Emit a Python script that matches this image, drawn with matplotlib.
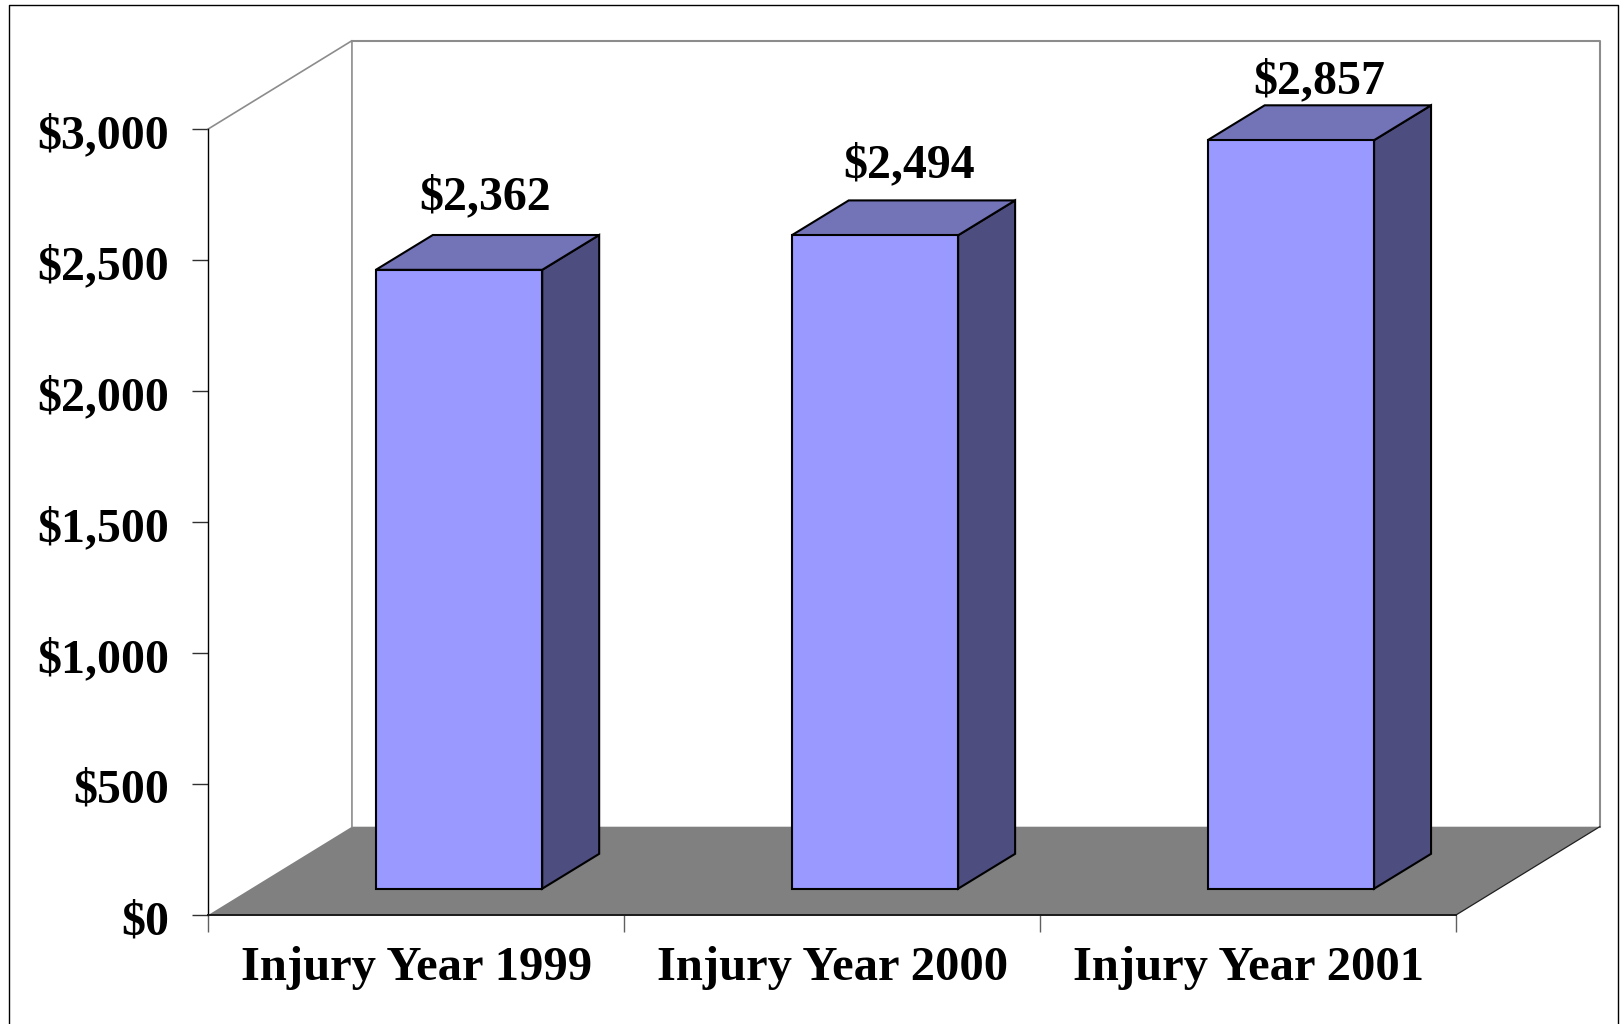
import matplotlib
matplotlib.use('Agg')
import matplotlib.pyplot as plt
from matplotlib.lines import Line2D
from matplotlib.transforms import ScaledTranslation

categories = ['Injury Year 1999', 'Injury Year 2000', 'Injury Year 2001']
values = [2362, 2494, 2857]
y_ticks = [0, 500, 1000, 1500, 2000, 2500, 3000]
y_tick_labels = ['$0', '$500', '$1,000', '$1,500', '$2,000', '$2,500', '$3,000']

# the label offsets are hand placed in the original (pixels from the bar's front top centre)
label_dx = [26, 34, 28]
label_dy = [73, 70, 59]

W, H = 1620, 1024
plt.rcParams['font.family'] = ['Liberation Serif', 'DejaVu Serif']
plt.rcParams['font.weight'] = 'bold'

fig = plt.figure(figsize=(W / 100, H / 100), dpi=100, facecolor='white')
# axis box in pixels: x 208.2..1456, y 129..915
ax = fig.add_axes([208.2 / W, 1 - 915 / H, (1456 - 208.2) / W, (915 - 129) / H])
ax.set_xlim(0, 3)
ax.set_ylim(0, 3000)
ax.patch.set_alpha(0)

# 3d look: depth of the box and of the bars, in data units
wall_dx, wall_dy = 0.3456, 337
bar_dx, bar_dy = 0.137, 133
base_dx, base_dy = 0.103, 100.4
bar_w = 0.40

# floor
ax.fill([0, 3, 3 + wall_dx, wall_dx], [0, 0, wall_dy, wall_dy], color='#808080', lw=0, clip_on=False, zorder=1)

# back wall
wall_top = 3000 + wall_dy
ax.plot([0, wall_dx, wall_dx], [3000, wall_top, wall_dy], color='#8c8c8c', lw=1.2, clip_on=False, zorder=2)
ax.plot([wall_dx, 3 + wall_dx, 3 + wall_dx], [wall_top, wall_top, wall_dy], color='#8c8c8c', lw=1.5, clip_on=False, zorder=2)
ax.plot([3, 3 + wall_dx], [0, wall_dy], color='#202020', lw=0.9, clip_on=False, zorder=2)

# bars
for i, v in enumerate(values):
    x0 = i + 0.5 + base_dx - bar_w / 2
    x1 = x0 + bar_w
    y0 = base_dy
    y1 = base_dy + v
    ax.fill([x1, x1 + bar_dx, x1 + bar_dx, x1], [y0, y0 + bar_dy, y1 + bar_dy, y1],
            facecolor='#4d4d80', edgecolor='black', lw=1.5, clip_on=False, zorder=3)
    ax.fill([x0, x1, x1 + bar_dx, x0 + bar_dx], [y1, y1, y1 + bar_dy, y1 + bar_dy],
            facecolor='#7373b8', edgecolor='black', lw=1.5, clip_on=False, zorder=3)
    ax.fill([x0, x1, x1, x0], [y0, y0, y1, y1],
            facecolor='#9999ff', edgecolor='black', lw=1.5, clip_on=False, zorder=4)
    ax.annotate(f'${v:,}', xy=((x0 + x1) / 2, y1), xytext=(label_dx[i], label_dy[i]),
                textcoords='offset pixels', ha='center', va='center', fontsize=34.5,
                fontweight='bold', annotation_clip=False, zorder=5)

# axes
for side in ['top', 'right']:
    ax.spines[side].set_visible(False)
ax.spines['left'].set_color('black')
ax.spines['left'].set_linewidth(1.0)
ax.spines['bottom'].set_color('#1a1a1a')
ax.spines['bottom'].set_linewidth(1.4)
ax.spines['bottom'].set_zorder(2.5)

ax.set_yticks(y_ticks, labels=y_tick_labels)
ax.tick_params(axis='y', length=11.5, width=1.0, color='#303030', pad=16.5, labelsize=34.4)
# the y labels sit a little under their ticks
shift = ScaledTranslation(0, -2 / 100, fig.dpi_scale_trans)
for lab in ax.get_yticklabels():
    lab.set_transform(lab.get_transform() + shift)

ax.set_xticks([0, 1, 2, 3], labels=[])
ax.tick_params(axis='x', which='major', length=12, width=1.0, color='#606060')
ax.set_xticks([0.5, 1.5, 2.5], labels=categories, minor=True)
ax.tick_params(axis='x', which='minor', length=0, pad=22, labelsize=35)

# outer frame, the bottom runs off the picture
frame_x = [9 / W, 9 / W, 1618 / W, 1618 / W]
frame_y = [0, 1 - 5 / H, 1 - 5 / H, 0]
fig.add_artist(Line2D(frame_x, frame_y, color='black', lw=1.0))

fig.savefig('out.png', dpi=100)
plt.close(fig)
